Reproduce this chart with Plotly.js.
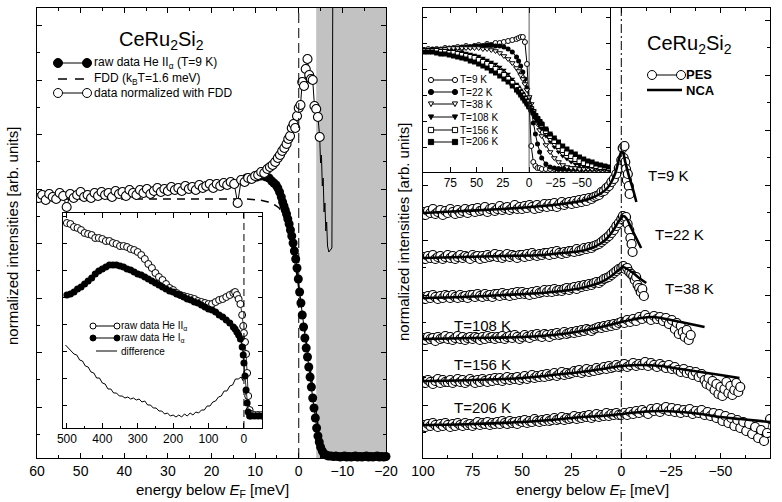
<!DOCTYPE html>
<html><head><meta charset="utf-8">
<script src="https://cdn.plot.ly/plotly-3.0.1.min.js"></script>
<style>html,body{margin:0;padding:0;background:#fff}#chart{width:782px;height:502px}</style>
</head><body><div id="chart"></div>
<script>
// ---------------- DATA ----------------
// Left panel (CeRu2Si2, T = 9 K): energies in meV below E_F, intensities in arb. units
const leftNormE = [59.6,58.8,58.0,57.2,56.4,55.6,54.8,54.0,53.2,52.4,51.6,50.8,50.0,49.2,48.4,47.6,46.8,46.0,45.2,44.4,43.6,42.8,42.0,41.2,40.4,39.6,38.8,38.0,37.2,36.4,35.6,34.8,34.0,33.2,32.4,31.6,30.8,30.0,29.2,28.4,27.6,26.8,26.0,25.2,24.4,23.6,22.8,22.0,21.2,20.4,19.6,18.8,18.0,17.2,16.4,15.6,14.8,14.0,13.2,12.4,11.6,10.8,10.0,9.3,8.6,7.9,7.2,6.6,6.0,5.4,4.8,4.3,3.8,3.3,2.8,2.4,2.0,1.6,1.2,0.8,0.4,0.0,-0.4,-0.8,-1.2,-1.6,-2.0,-2.4,-2.8,-3.2,-3.6,-4.0,-4.4,-4.8];
const leftNormI = [26.0,26.3,25.8,26.4,26.1,25.9,26.5,26.2,25.1,26.4,26.0,26.3,26.6,26.1,26.3,26.0,26.5,26.2,26.6,26.3,26.5,26.1,26.7,26.4,26.6,26.2,26.8,26.5,26.3,26.8,26.5,26.9,26.4,26.7,27.0,26.6,26.9,26.7,27.1,26.8,27.0,26.7,27.2,26.9,27.1,26.8,27.3,27.0,27.2,27.4,27.0,27.4,27.2,27.5,27.3,27.6,27.4,25.5,27.8,27.6,28.0,27.9,28.2,28.3,28.6,28.5,28.9,29.1,29.3,29.6,30.0,30.3,30.7,31.0,31.4,31.9,32.2,33.0,33.4,33.0,34.2,35.0,35.3,37.6,37.2,38.9,39.9,38.3,37.9,37.8,35.2,34.9,34.1,32.1];
const leftTailE = [-4.8,-5.0,-5.2,-5.4,-5.6,-5.8,-6.0,-6.2,-6.4,-6.6,-6.9,-7.6,-7.8];
const leftTailI = [32.1,29.5,30.3,27.2,28.0,24.6,25.5,22.7,23.6,21.2,20.6,21.0,46.0];
const leftRawE = [12.0,11.2,10.4,9.6,8.8,8.0,7.4,6.8,6.2,5.7,5.2,4.8,4.4,4.0,3.7,3.4,3.1,2.8,2.5,2.2,1.9,1.6,1.3,1.0,0.7,0.4,0.1,-0.2,-0.5,-0.8,-1.1,-1.4,-1.7,-2.0,-2.3,-2.6,-2.9,-3.2,-3.5,-3.8,-4.1,-4.4,-4.7,-5.0,-5.4,-5.8,-6.3,-6.8,-7.4,-8.0,-8.5,-9.0,-9.5,-10.0,-10.5,-11.0,-11.5,-12.0,-12.5,-13.0,-13.5,-14.0,-14.5,-15.0,-15.5,-16.0,-16.5,-17.0,-17.5,-18.0,-18.5,-19.0,-19.5,-20.0];
const leftRawI = [28.0,27.9,28.0,28.1,28.2,28.2,28.1,28.0,27.7,27.5,27.3,27.0,26.6,26.1,25.6,25.2,24.8,24.4,23.9,23.4,22.8,22.2,21.5,20.7,19.9,19.0,17.9,16.6,15.5,14.3,13.1,12.0,11.0,10.1,9.1,8.1,7.1,6.0,5.0,4.0,3.0,2.2,1.6,1.1,0.7,0.4,0.3,0.2,0.2,0.15,0.2,0.15,0.1,0.15,0.2,0.1,0.15,0.1,0.15,0.2,0.1,0.15,0.1,0.15,0.2,0.1,0.15,0.1,0.15,0.2,0.1,0.15,0.1,0.15];
const leftFddE = [60,40,20,12,9,7,5.5,4.5,3.5,2.5,1.5,0.5,-0.5,-1.5,-2.5,-3.5,-4.5,-5.5,-6.5,-8,-10,-20];
const leftFddI = [25.9,25.9,25.9,25.9,25.8,25.6,25.3,25.0,24.3,23.0,21.0,18.5,15.5,12.3,9.0,5.8,3.0,1.2,0.5,0.15,0.05,0.0];
const shadeFrom = -4, shadeTo = -20;

// Left inset: raw He II / He I and difference
const insLE = [500,490,480,470,460,450,440,430,420,410,400,390,380,370,360,350,340,330,320,310,300,290,280,270,260,250,240,230,220,210,200,190,180,170,160,150,140,130,120,110,100,90,80,70,60,50,40,30,25,20,15,10,5,2,0,-3,-6,-9,-12,-16,-20,-30,-40,-50];
const heIIraw = [20.5,20.4,20.1,20.0,19.8,19.5,19.4,19.3,19.0,19.0,18.9,18.7,18.7,18.5,18.4,18.2,18.2,18.1,17.9,17.8,17.6,17.3,16.9,16.4,16.0,15.5,15.1,14.8,14.4,14.0,13.8,13.5,13.3,13.2,13.1,13.0,12.9,12.7,12.6,12.5,12.4,12.4,12.6,12.8,12.9,13.1,13.3,13.5,13.6,13.3,12.9,12.4,11.3,10.2,9.5,8.6,7.4,5.5,3.2,1.8,1.4,1.3,1.3,1.3];
const heIraw = [13.3,13.4,13.6,13.9,14.1,14.4,14.7,15.0,15.4,15.7,15.9,16.1,16.3,16.3,16.3,16.2,16.1,15.9,15.8,15.6,15.4,15.3,15.1,14.9,14.7,14.5,14.3,14.1,13.9,13.7,13.6,13.4,13.3,13.1,12.9,12.8,12.6,12.5,12.3,12.1,11.9,11.8,11.6,11.3,11.1,10.8,10.5,10.1,9.9,9.6,9.3,8.9,8.1,7.3,6.5,5.2,3.8,2.5,1.6,1.2,1.2,1.2,1.2,1.2];
const diffE = [504,496,488,480,472,464,456,448,440,432,424,416,408,400,392,384,376,368,360,352,344,336,328,320,312,304,296,288,280,272,264,256,248,240,232,224,216,208,200,192,184,176,168,160,152,144,136,128,120,112,104,96,88,80,72,64,56,48,40,32,24,16,8,4,2];
const diffI = [8.3,8.0,7.8,7.4,7.3,6.8,6.7,6.2,6.1,5.6,5.5,5.0,5.0,4.5,4.4,3.9,3.9,3.5,3.5,3.2,3.2,3.0,3.1,2.9,3.0,2.8,2.9,2.6,2.7,2.3,2.3,2.0,2.0,1.7,1.7,1.4,1.5,1.2,1.3,1.1,1.3,1.1,1.4,1.2,1.5,1.3,1.6,1.5,1.8,1.8,2.2,2.2,2.6,2.7,3.1,3.2,3.7,3.7,4.2,4.3,4.9,4.9,5.1,4.9,4.7];

// Right panel: PES (open circles) and NCA (lines), offset spectra; pesEpos = 100 ... 0 meV
const pesEpos = [100,98.75,97.5,96.25,95,93.75,92.5,91.25,90,88.75,87.5,86.25,85,83.75,82.5,81.25,80,78.75,77.5,76.25,75,73.75,72.5,71.25,70,68.75,67.5,66.25,65,63.75,62.5,61.25,60,58.75,57.5,56.25,55,53.75,52.5,51.25,50,48.75,47.5,46.25,45,43.75,42.5,41.25,40,38.75,37.5,36.25,35,33.75,32.5,31.25,30,28.75,27.5,26.25,25,23.75,22.5,21.25,20,18.75,17.5,16.25,15,13.75,12.5,11.25,10,8.75,7.5,6.25,5,3.75,2.5,1.25,0];
const pes9I = [24.6,24.3,24.7,24.5,24.9,24.4,24.6,24.8,24.3,24.7, 24.5,24.9,24.6,24.4,24.8,24.5,24.7,24.9,24.5,24.8, 24.9,24.6,25.0,24.7,24.8,25.1,24.6,24.9,25.0,24.7, 24.9,25.2,24.8,25.0,25.1,24.8,25.0,25.3,24.9,25.1, 24.9,25.2,25.0,25.3,25.1,24.9,25.3,25.0,25.2,25.4, 25.1,25.4,25.2,25.5,25.1,25.4,25.6,25.3,25.5,25.6, 25.4,25.7,25.5,25.8,25.6,25.9,25.7,26.0,25.9,26.1, 26.2,26.3,26.6,26.7,27.0,27.2,27.6,27.9,28.4,29.0, 29.8];
const pes9TailE = [-0.7,-1.2,-1.6,-2.0,-2.4,-2.8,-3.3,-3.8,-4.2];
const pes9TailI = [31.0,30.0,31.2,29.6,28.9,27.8,28.4,27.2,26.4];
const pes22I = [20.1,19.9,20.2,20.0,20.3,19.9,20.1,20.2,19.9,20.1, 20.3,20.0,20.2,19.9,20.1,20.3,20.0,20.2,20.1,19.9, 20.3,20.1,20.2,19.9,20.2,20.0,20.3,20.1,20.2,20.4, 20.1,20.3,20.0,20.2,20.4,20.1,20.3,20.2,20.0,20.3, 20.3,20.1,20.4,20.2,20.5,20.3,20.2,20.4,20.3,20.5, 20.5,20.3,20.6,20.4,20.7,20.5,20.4,20.6,20.5,20.7, 20.7,20.6,20.9,20.7,20.8,21.0,20.9,21.1,21.0,21.2, 21.3,21.4,21.6,21.8,22.0,22.2,22.5,22.8,23.2,23.5, 23.9];
const pes22TailE = [-0.8,-1.6,-2.4,-3.2,-4.0,-4.6,-5.2,-5.7];
const pes22TailI = [24.2,24.0,24.1,23.4,22.8,22.0,21.4,20.6];
const pes38I = [16.1,15.9,16.2,16.0,16.3,16.1,15.9,16.2,16.0,16.3, 16.2,16.0,16.3,16.1,16.0,16.3,16.1,16.2,16.0,16.3, 16.3,16.1,16.4,16.2,16.1,16.4,16.2,16.3,16.1,16.4, 16.4,16.2,16.5,16.3,16.4,16.2,16.5,16.3,16.6,16.4, 16.6,16.4,16.5,16.3,16.6,16.4,16.7,16.5,16.6,16.8, 16.6,16.8,16.6,16.9,16.7,16.8,16.7,16.9,17.0,16.8, 17.0,17.1,16.9,17.2,17.1,17.3,17.2,17.4,17.3,17.5, 17.6,17.5,17.7,17.9,18.0,18.1,18.3,18.5,18.7,18.9, 19.0];
const pes38TailE = [-1,-2,-3,-4,-5,-6,-6.8,-7.5,-8.2,-9,-9.8,-10.6,-11.4];
const pes38TailI = [19.2,18.9,19.0,18.6,18.4,18.2,17.8,18.1,17.3,17.0,16.6,16.9,16.2];
const pes108I = [12.0,11.8,12.1,11.9,12.0,11.7,12.1,11.9,12.0,12.2, 11.9,12.1,11.8,12.0,12.2,11.9,12.1,11.8,12.0,12.1, 11.9,12.1,12.0,11.8,12.1,11.9,12.2,12.0,12.1,11.9, 12.1,12.0,12.2,11.9,12.1,12.2,12.0,12.3,12.1,11.9, 12.1,12.3,12.1,12.0,12.3,12.2,12.4,12.2,12.1,12.4, 12.3,12.1,12.4,12.3,12.5,12.3,12.4,12.6,12.4,12.5, 12.6,12.5,12.7,12.6,12.8,12.7,12.9,12.8,12.7,12.9, 13.0,13.1,13.0,13.2,13.1,13.3,13.2,13.4,13.3,13.5, 13.6];
const pes108TailE = [-1.5,-3,-4.5,-6,-7.5,-9,-10.5,-12,-13.5,-15,-16.5,-18,-19.5,-21,-22.5,-24,-25.5,-27,-28,-29,-30,-31,-32,-33,-34,-35];
const pes108TailI = [13.5,13.8,13.6,13.9,13.7,14.1,13.9,14.3,14.0,13.8,14.2,13.9,14.1,13.7,14.0,13.4,13.8,12.9,13.5,12.4,13.2,12.6,12.1,12.8,11.8,12.3];
const pes156I = [7.7,7.5,7.8,7.6,7.4,7.7,7.9,7.5,7.8,7.6, 7.6,7.8,7.5,7.7,7.9,7.6,7.8,7.5,7.7,7.9, 7.7,7.5,7.8,7.6,7.9,7.7,7.6,7.9,7.7,8.0, 7.8,8.0,7.7,7.9,8.1,7.8,8.0,7.9,8.1,7.8, 8.0,8.2,7.9,8.1,8.3,8.0,8.2,8.1,8.3,8.1, 8.4,8.2,8.3,8.5,8.2,8.4,8.6,8.3,8.5,8.4, 8.5,8.7,8.6,8.8,8.5,8.7,8.9,8.6,8.8,8.7, 9.0,8.8,8.9,9.1,8.9,9.2,9.0,9.1,9.3,9.1, 9.2];
const pes156TailE = [-1.5,-3,-4.5,-6,-7.5,-9,-10.5,-12,-13.5,-15,-16.5,-18,-19.5,-21,-22.5,-24,-25.5,-27,-28.5,-30,-31.5,-33,-34.5,-36,-37.5,-39,-40.5,-42,-43,-44,-45,-46,-47,-48,-49,-50,-51,-52,-53,-54,-55,-56,-57,-58,-59,-60];
const pes156TailI = [9.4,9.1,9.3,9.5,9.2,9.4,9.3,9.6,9.2,9.5,9.3,9.1,9.4,9.2,9.0,9.3,8.9,9.1,8.8,8.6,8.9,8.5,8.7,8.3,8.6,8.1,8.4,7.8,7.4,8.0,7.2,7.7,6.8,7.4,6.4,7.1,6.2,6.9,7.6,6.5,7.2,6.3,6.8,7.5,6.6,7.1];
const pes206I = [3.3,3.1,3.4,3.2,3.5,3.3,3.1,3.4,3.2,3.5, 3.3,3.1,3.4,3.2,3.5,3.3,3.2,3.5,3.3,3.4, 3.2,3.4,3.6,3.3,3.5,3.4,3.6,3.3,3.5,3.4, 3.6,3.4,3.7,3.5,3.4,3.7,3.5,3.6,3.4,3.7, 3.6,3.8,3.5,3.7,3.6,3.9,3.7,3.6,3.8,3.7, 3.9,3.7,3.8,4.0,3.8,3.9,4.1,3.8,4.0,3.9, 4.0,4.2,3.9,4.1,4.0,4.2,4.1,4.3,4.0,4.2, 4.4,4.1,4.3,4.2,4.5,4.2,4.4,4.3,4.5,4.3, 4.3];
const pes206TailE = [-1.5,-3,-4.5,-6,-7.5,-9,-10.5,-12,-13.5,-15,-16.5,-18,-19.5,-21,-22.5,-24,-25.5,-27,-28.5,-30,-31.5,-33,-34.5,-36,-37.5,-39,-40.5,-42,-43.5,-45,-46.5,-48,-49.5,-51,-52.5,-54,-55.5,-57,-58.5,-60,-61.5,-63,-64.5,-66,-67.5,-69,-70.5,-72,-73.5,-75];
const pes206TailI = [4.5,4.3,4.6,4.4,4.7,4.5,4.8,4.6,4.4,4.9,4.7,5.0,4.6,4.9,5.1,4.7,5.0,4.6,4.9,4.5,4.8,4.6,4.9,4.4,4.7,4.5,4.8,4.3,4.6,4.2,4.5,4.0,4.4,3.7,4.2,3.5,4.0,3.2,3.8,3.0,3.6,2.7,3.4,2.4,3.1,2.0,2.8,1.7,2.5,3.9];

const nca9E = [100,80,60,40,30,20,15,10,7,5,3,2,1,0,-0.7,-2,-4,-6,-7.6];
const nca9I = [24.5,24.7,24.9,25.2,25.4,25.7,26.0,26.5,27.0,27.6,28.5,29.2,30.0,30.6,30.6,29.6,28.1,26.8,25.6];
const nca22E = [100,80,60,40,30,20,15,10,7,5,3,1.5,0,-1,-2.5,-5,-7.5,-10];
const nca22I = [20.0,20.1,20.2,20.3,20.5,20.7,21.0,21.5,22.0,22.5,23.1,23.6,24.0,24.2,24.0,23.0,22.0,21.0];
const nca38E = [100,80,60,40,30,20,10,5,2,0,-1,-3,-6,-9,-12.6];
const nca38I = [16.0,16.1,16.3,16.5,16.7,17.0,17.6,18.2,18.7,19.0,19.1,18.9,18.5,18.0,17.5];
const nca108E = [100,75,50,30,20,10,0,-10,-15,-20,-30,-42];
const nca108I = [11.9,12.0,12.1,12.4,12.7,13.1,13.6,14.0,14.1,14.0,13.6,13.1];
const nca156E = [100,75,50,30,20,10,0,-10,-20,-30,-40,-50,-59.6];
const nca156I = [7.7,7.8,8.0,8.4,8.6,8.9,9.2,9.3,9.2,8.9,8.6,8.3,8.0];
const nca206E = [100,75,50,30,20,10,0,-10,-20,-30,-40,-50,-60,-75];
const nca206I = [3.3,3.4,3.6,3.9,4.1,4.2,4.4,4.6,4.7,4.6,4.4,4.1,3.9,3.6];

const tempLabels = ['T=9 K','T=22 K','T=38 K','T=108 K','T=156 K','T=206 K'];
const tempLabelE = [-23.7,-29.3,-34.3,70.2,70.2,70.2];
const tempLabelI = [28.3,22.4,17.0,13.3,9.4,5.1];

// Right inset: temperature series
const insRE = [100,96,92,88,84,80,76,72,68,64,60,56,52,48,44,40,36,32,28,24,20,16,12,10,8,6,4,2,0,-2,-4,-6,-8,-10,-12,-16,-20,-24,-28,-32,-36,-40,-44,-48,-52,-56,-60,-64,-68,-72,-76];
const ins9K   = [12.2,12.3,12.1,12.3,12.2,12.4,12.3,12.4,12.5,12.4,12.6,12.5,12.6,12.7,12.6,12.8,12.7,12.9,12.9,13.0,13.1,13.2,13.3,13.4,13.5,13.5,13.0,10.8,6.8,2.6,1.0,0.6,0.4,0.4,0.3,0.3,0.3,0.3,0.3,0.3,0.3,0.3,0.3,0.3,0.3,0.3,0.3,0.3,0.3,0.3,0.3];
const ins22K  = [12.2,12.2,12.3,12.2,12.3,12.3,12.4,12.4,12.4,12.5,12.5,12.5,12.6,12.6,12.6,12.7,12.7,12.6,12.6,12.5,12.3,12.0,11.5,11.1,10.6,10.0,9.3,8.4,7.4,6.2,4.9,3.8,2.8,2.0,1.4,0.8,0.5,0.4,0.3,0.3,0.3,0.3,0.3,0.3,0.3,0.3,0.3,0.3,0.3,0.3,0.3];
const ins38K  = [12.2,12.2,12.2,12.3,12.3,12.3,12.4,12.4,12.4,12.4,12.4,12.4,12.4,12.4,12.3,12.3,12.2,12.1,11.9,11.6,11.3,10.9,10.4,10.1,9.7,9.3,8.8,8.2,7.5,6.8,6.1,5.4,4.8,4.2,3.6,2.7,2.0,1.4,1.0,0.7,0.5,0.4,0.4,0.3,0.3,0.3,0.3,0.3,0.3,0.3,0.3];
const ins108K = [12.2,12.2,12.2,12.2,12.2,12.1,12.1,12.1,12.0,12.0,11.9,11.8,11.7,11.6,11.4,11.2,11.0,10.8,10.5,10.2,9.8,9.3,8.8,8.5,8.2,7.9,7.5,7.1,6.7,6.3,5.9,5.5,5.1,4.7,4.3,3.6,3.0,2.5,2.0,1.6,1.3,1.0,0.8,0.7,0.6,0.5,0.5,0.4,0.4,0.4,0.4];
const ins156K = [12.1,12.1,12.1,12.1,12.0,12.0,11.9,11.9,11.8,11.7,11.6,11.5,11.4,11.2,11.0,10.8,10.6,10.3,10.0,9.7,9.3,8.9,8.5,8.2,7.9,7.6,7.3,7.0,6.6,6.3,6.0,5.6,5.3,5.0,4.7,4.1,3.6,3.1,2.6,2.2,1.9,1.6,1.3,1.1,0.9,0.8,0.7,0.6,0.5,0.5,0.4];
const ins206K = [12.0,12.0,12.0,11.9,11.8,11.8,11.7,11.6,11.5,11.4,11.3,11.1,11.0,10.8,10.6,10.4,10.1,9.9,9.6,9.3,9.0,8.6,8.2,8.0,7.7,7.4,7.1,6.8,6.5,6.2,5.9,5.6,5.3,5.0,4.8,4.3,3.8,3.4,3.0,2.6,2.3,2.0,1.8,1.5,1.3,1.1,1.0,0.8,0.7,0.6,0.5];
const insSeriesNames = ['T=9 K','T=22 K','T=38 K','T=108 K','T=156 K','T=206 K'];
const insTickVals = [75, 50, 25, 0, -25, -50];

// ---------------- LAYOUT HELPERS ----------------
const W = 782, H = 502;
const px = x => x / W;
const py = y => 1 - y / H;
const FONT = 'Liberation Sans, Arial, sans-serif';
const BLACK = '#000';

const traces = [];
const openMk = (size, symbol, lw) => ({symbol: symbol || 'circle', size: size, color: '#fff', line: {color: BLACK, width: lw || 1}});
const fillMk = (size, symbol) => ({symbol: symbol || 'circle', size: size, color: BLACK, line: {color: BLACK, width: 0}});

// Left main panel
traces.push({x: leftRawE, y: leftRawI, xaxis: 'x', yaxis: 'y', mode: 'lines+markers', line: {color: BLACK, width: 1}, marker: fillMk(9), cliponaxis: false});
traces.push({x: leftFddE, y: leftFddI, xaxis: 'x', yaxis: 'y', mode: 'lines', line: {color: BLACK, width: 1.5, dash: '8px,6px'}});
traces.push({x: leftTailE, y: leftTailI, xaxis: 'x', yaxis: 'y', mode: 'lines', line: {color: BLACK, width: 1}});
traces.push({x: leftNormE, y: leftNormI, xaxis: 'x', yaxis: 'y', mode: 'lines+markers', line: {color: BLACK, width: 1}, marker: openMk(9, 'circle', 1.1)});

// Left inset
traces.push({x: insLE, y: heIIraw, xaxis: 'x3', yaxis: 'y3', mode: 'lines+markers', line: {color: BLACK, width: 0.8}, marker: openMk(7)});
traces.push({x: insLE, y: heIraw, xaxis: 'x3', yaxis: 'y3', mode: 'lines+markers', line: {color: BLACK, width: 0.8}, marker: fillMk(7)});
traces.push({x: diffE, y: diffI, xaxis: 'x3', yaxis: 'y3', mode: 'lines', line: {color: BLACK, width: 1}});

// Right main panel
const pesSets = [
  [pes9I, pes9TailE, pes9TailI, nca9E, nca9I],
  [pes22I, pes22TailE, pes22TailI, nca22E, nca22I],
  [pes38I, pes38TailE, pes38TailI, nca38E, nca38I],
  [pes108I, pes108TailE, pes108TailI, nca108E, nca108I],
  [pes156I, pes156TailE, pes156TailI, nca156E, nca156I],
  [pes206I, pes206TailE, pes206TailI, nca206E, nca206I]
];
pesSets.forEach(s => {
  traces.push({x: pesEpos.concat(s[1]), y: s[0].concat(s[2]), xaxis: 'x2', yaxis: 'y2', mode: 'lines+markers', line: {color: BLACK, width: 0.8}, marker: openMk(9, 'circle', 1.2)});
});
pesSets.forEach(s => {
  traces.push({x: s[3], y: s[4], xaxis: 'x2', yaxis: 'y2', mode: 'lines', line: {color: BLACK, width: 2.6, shape: 'spline'}});
});

// Right inset
const insSets = [ins9K, ins22K, ins38K, ins108K, ins156K, ins206K];
const insMarkers = [openMk(5,'circle'), fillMk(5,'circle'), openMk(5,'triangle-down'), fillMk(5,'triangle-down'), openMk(5,'square'), fillMk(5,'square')];
insSets.forEach((s, i) => {
  traces.push({x: insRE, y: s, name: insSeriesNames[i], xaxis: 'x4', yaxis: 'y4', mode: 'lines+markers', line: {color: BLACK, width: 1}, marker: insMarkers[i]});
});

// ---------------- AXES ----------------
const baseAxis = {
  showline: true, linecolor: BLACK, linewidth: 1, mirror: 'allticks',
  ticks: 'inside', ticklen: 5, tickcolor: BLACK, tickwidth: 1,
  showgrid: false, zeroline: false, fixedrange: true
};
const layout = {
  width: W, height: H,
  margin: {l: 0, r: 0, t: 0, b: 0},
  paper_bgcolor: '#fff', plot_bgcolor: '#fff',
  showlegend: false,
  font: {family: FONT, color: BLACK},
  xaxis: Object.assign({}, baseAxis, {domain: [px(37), px(386)], range: [60, -20], anchor: 'y',
    tickmode: 'linear', tick0: 0, dtick: 10, minor: {ticks: 'inside', ticklen: 3, dtick: 5, tick0: 0, tickcolor: BLACK},
    tickfont: {family: FONT, size: 14}}),
  yaxis: Object.assign({}, baseAxis, {domain: [py(458), py(8)], range: [0, 45], anchor: 'x',
    showticklabels: false, tickmode: 'linear', tick0: 5.1, dtick: 5.45,
    minor: {ticks: 'inside', ticklen: 3, dtick: 2.725, tick0: 2.375, tickcolor: BLACK}}),
  xaxis2: Object.assign({}, baseAxis, {domain: [px(423), px(770)], range: [100, -75], anchor: 'y2',
    tickmode: 'linear', tick0: 0, dtick: 25, minor: {ticks: 'inside', ticklen: 3, dtick: 12.5, tick0: 0, tickcolor: BLACK},
    tickfont: {family: FONT, size: 14}}),
  yaxis2: Object.assign({}, baseAxis, {domain: [py(458), py(8)], range: [0, 45], anchor: 'x2',
    showticklabels: false, tickmode: 'linear', tick0: 5.3, dtick: 5.5,
    minor: {ticks: 'inside', ticklen: 3, dtick: 2.75, tick0: 2.55, tickcolor: BLACK}}),
  xaxis3: Object.assign({}, baseAxis, {domain: [px(63), px(262)], range: [511, -51], anchor: 'y3',
    tickmode: 'linear', tick0: 0, dtick: 100, minor: {ticks: 'inside', ticklen: 2, dtick: 50, tick0: 0, tickcolor: BLACK},
    tickfont: {family: FONT, size: 12}}),
  yaxis3: Object.assign({}, baseAxis, {domain: [py(428), py(213)], range: [0, 21.5], anchor: 'x3',
    showticklabels: false, tickmode: 'linear', tick0: 2.3, dtick: 2.7, ticklen: 4}),
  xaxis4: Object.assign({}, baseAxis, {domain: [px(423), px(610)], range: [101, -77], anchor: 'y4',
    tickmode: 'array', tickvals: insTickVals, ticktext: insTickVals.map(v => v < 0 ? '\u2212' + (-v) : String(v)),
    tickfont: {family: FONT, size: 12}}),
  yaxis4: Object.assign({}, baseAxis, {domain: [py(172), py(8)], range: [0, 16.4], anchor: 'x4',
    showticklabels: false, tickmode: 'linear', tick0: 2.5, dtick: 2.6, ticklen: 4}),
  shapes: [],
  annotations: []
};

// Shaded region and E_F markers
layout.shapes.push({type: 'rect', xref: 'x', yref: 'y domain', x0: shadeFrom, x1: shadeTo, y0: 0, y1: 1, fillcolor: '#c2c2c2', line: {width: 0}, layer: 'below'});
layout.shapes.push({type: 'line', xref: 'x', yref: 'y domain', x0: 0, x1: 0, y0: 0, y1: 1, line: {color: BLACK, width: 1, dash: '10px,5px'}});
layout.shapes.push({type: 'line', xref: 'x2', yref: 'y2 domain', x0: 0, x1: 0, y0: 0, y1: 1, line: {color: BLACK, width: 1, dash: '9px,3px,2px,3px'}});
layout.shapes.push({type: 'line', xref: 'x3', yref: 'y3 domain', x0: 0, x1: 0, y0: 0, y1: 1, line: {color: BLACK, width: 1, dash: '7px,4px'}});
layout.shapes.push({type: 'line', xref: 'x4', yref: 'y4 domain', x0: 0, x1: 0, y0: 0, y1: 1, line: {color: '#333', width: 0.8}});

// ---------------- LEGENDS (drawn swatches) ----------------
function lgLine(x0, x1, y, width, dash) {
  layout.shapes.push({type: 'line', xref: 'paper', yref: 'paper', x0: px(x0), x1: px(x1), y0: py(y), y1: py(y), line: {color: BLACK, width: width, dash: dash || 'solid'}});
}
function lgMarker(kind, cx, cy, r, filled) {
  const fill = filled ? BLACK : '#fff';
  const ln = {color: BLACK, width: 1};
  if (kind === 'circle') {
    layout.shapes.push({type: 'circle', xref: 'paper', yref: 'paper', x0: px(cx - r), x1: px(cx + r), y0: py(cy + r), y1: py(cy - r), fillcolor: fill, line: ln});
  } else if (kind === 'square') {
    layout.shapes.push({type: 'rect', xref: 'paper', yref: 'paper', x0: px(cx - r), x1: px(cx + r), y0: py(cy + r), y1: py(cy - r), fillcolor: fill, line: ln});
  } else if (kind === 'tri') {
    const p = `M ${px(cx - r)} ${py(cy - r * 0.8)} L ${px(cx + r)} ${py(cy - r * 0.8)} L ${px(cx)} ${py(cy + r)} Z`;
    layout.shapes.push({type: 'path', xref: 'paper', yref: 'paper', path: p, fillcolor: fill, line: ln});
  }
}
function lgText(x, y, txt, size, bold) {
  layout.annotations.push({xref: 'paper', yref: 'paper', x: px(x), y: py(y), xanchor: 'left', yanchor: 'middle', showarrow: false,
    text: bold ? '<b>' + txt + '</b>' : txt, font: {family: FONT, size: size, color: BLACK}, borderpad: 0});
}
function lgRow(row, cfg) {
  if (row.kind === 'dash') {
    lgLine(cfg.x0, cfg.x1, row.y, 1.5, '9px,8px');
  } else if (row.kind === 'line') {
    lgLine(row.lx0 || cfg.x0, row.lx1 || cfg.x1, row.y, row.width || 1);
  } else {
    lgLine(cfg.x0, cfg.x1, row.y, 1);
    lgMarker(row.kind, cfg.x0, row.y, cfg.r, row.filled);
    lgMarker(row.kind, cfg.x1, row.y, cfg.r, row.filled);
  }
  lgText(cfg.tx, row.y, row.text, cfg.size, cfg.bold);
}
const legendLeft = {x0: 58, x1: 87, r: 4.5, tx: 93, size: 12, bold: false, rows: [
  {y: 63, kind: 'circle', filled: true, text: 'raw data He II<sub>α</sub> (T=9 K)'},
  {y: 79, kind: 'dash', text: 'FDD (k<sub>B</sub>T=1.6 meV)'},
  {y: 93, kind: 'circle', filled: false, text: 'data normalized with FDD'}
]};
const legendLeftInset = {x0: 93, x1: 117, r: 3, tx: 120, size: 10, bold: false, rows: [
  {y: 326, kind: 'circle', filled: false, text: 'raw data He II<sub>α</sub>'},
  {y: 338, kind: 'circle', filled: true, text: 'raw data He I<sub>α</sub>'},
  {y: 351, kind: 'line', text: 'difference', lx0: 96, lx1: 117}
]};
const legendRight = {x0: 652, x1: 681, r: 4.5, tx: 685, size: 13, bold: true, rows: [
  {y: 75, kind: 'circle', filled: false, text: 'PES'},
  {y: 90, kind: 'line', text: 'NCA', lx0: 647, lx1: 682, width: 2.6}
]};
const legendRightInset = {x0: 431, x1: 455, r: 2.6, tx: 459, size: 10, bold: false, rows: [
  {y: 80, kind: 'circle', filled: false, text: insSeriesNames[0]},
  {y: 92, kind: 'circle', filled: true, text: insSeriesNames[1]},
  {y: 104, kind: 'tri', filled: false, text: insSeriesNames[2]},
  {y: 117, kind: 'tri', filled: true, text: insSeriesNames[3]},
  {y: 130, kind: 'square', filled: false, text: insSeriesNames[4]},
  {y: 142, kind: 'square', filled: true, text: insSeriesNames[5]}
]};
[legendLeft, legendLeftInset, legendRight, legendRightInset].forEach(cfg => cfg.rows.forEach(r => lgRow(r, cfg)));

// ---------------- TEXT ----------------
function ann(x, y, txt, size, extra) {
  layout.annotations.push(Object.assign({xref: 'paper', yref: 'paper', x: px(x), y: py(y), xanchor: 'center', yanchor: 'middle',
    showarrow: false, text: txt, font: {family: FONT, size: size, color: BLACK}}, extra || {}));
}
ann(161, 40, 'CeRu<sub>2</sub>Si<sub>2</sub>', 20);
ann(689, 44, 'CeRu<sub>2</sub>Si<sub>2</sub>', 20);
ann(212, 490, 'energy below <i>E</i><sub>F</sub> [meV]', 15);
ann(592, 490, 'energy below <i>E</i><sub>F</sub> [meV]', 15);
ann(12, 236, 'normalized intensities [arb. units]', 15, {textangle: -90});
ann(403, 232, 'normalized intensities [arb. units]', 15, {textangle: -90});
tempLabels.forEach((t, i) => {
  layout.annotations.push({xref: 'x2', yref: 'y2', x: tempLabelE[i], y: tempLabelI[i], text: t, showarrow: false,
    xanchor: 'center', yanchor: 'middle', font: {family: FONT, size: 15, color: BLACK}});
});

Plotly.newPlot('chart', traces, layout, {displayModeBar: false, staticPlot: true});
</script>
</body></html>
